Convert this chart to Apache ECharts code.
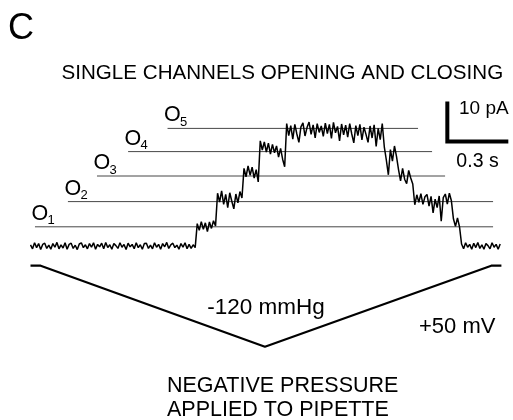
<!DOCTYPE html>
<html><head><meta charset="utf-8">
<script src="https://cdn.jsdelivr.net/npm/echarts@6/dist/echarts.min.js"></script>
<style>html,body{margin:0;padding:0;background:#fff}#chart{width:513px;height:420px}</style>
</head><body><div id="chart"></div>
<script>
// ---- data ----
const sampleStartS = 0;      // time of first sample (s)
const sampleStepS = 0.01;    // sampling step (s)
// single-channel current trace (pA)
const currentPA = [
  // closed (baseline)
  0.3, -0.7, 0.8, -0.4, 0.6, -0.9, 0.4, 0.7, -0.6, 0.2,
  -0.8, 0.6, -0.3, 0.9, -0.7, 0.3, -0.5, 0.8, -0.8, 0.4,
  0.7, -0.6, 0.2, -0.9, 0.5, 0.8, -0.4, 0.3, -0.7, 0.6,
  -0.3, 0.8, -0.8, 0.4, -0.2, 0.7, -0.7, 0.9, -0.4, 0.3,
  -0.8, 0.6, 0.1, -0.6, 0.8, -0.3, 0.4, -0.9, 0.7, -0.2,
  0.4, -0.7, 0.8, -0.4, 0.3, -0.8, 0.6, 0.7, -0.6, 0.2,
  -0.7, 0.8, -0.3, 0.4, -0.8, 0.6, -0.2, 0.9, -0.6, 0.3,
  0.7, -0.4, 0.2, -0.8, 0.6, -0.3, 0.8, -0.7, 0.4, -0.6,
  0.3, -0.4,
  // O1
  5.6, 3.9, 6.1, 4.2, 5.8, 3.6, 6.0, 4.4, 6.3, 5.0,
  // O2
  13.2, 11.0, 13.8, 10.4, 12.9, 9.6, 13.3, 11.2, 9.3, 13.0, 10.8, 13.6, 12.0,
  // O3
  19.4, 17.3, 20.0, 17.7, 19.7, 17.0, 19.1, 16.0,
  // O4
  26.3, 24.0, 26.0, 23.5, 25.7, 23.0, 25.4, 23.3, 25.0, 22.2, 24.4, 21.7, 19.8,
  // O5
  30.6, 27.6, 30.1, 26.7, 30.4, 28.0, 25.9, 29.8, 30.8, 27.5,
  29.6, 31.0, 27.9, 30.3, 27.0, 30.6, 28.4, 30.0, 27.4, 30.7,
  28.1, 30.4, 26.9, 30.9, 28.3, 29.9, 26.3, 30.5, 27.8, 30.2,
  27.2, 30.6, 28.0, 25.8, 30.1, 27.6, 30.4, 26.5, 29.7, 27.9,
  25.9, 30.0, 27.0, 30.3, 24.9, 29.4, 26.6, 30.6,
  // O4
  24.8, 21.5, 17.8, 24.1, 21.2, 25.0, 22.4,
  // O3
  19.1, 16.3, 19.4, 16.7, 15.6, 18.9, 17.0, 15.5,
  // O2
  10.3, 12.8, 10.9, 13.1, 10.4, 12.3, 12.9, 10.0, 12.4, 8.3,
  11.7, 9.6, 12.5, 6.2, 12.1, 13.0, 10.5, 13.2, 11.3,
  // O1
  6.8, 4.9, 7.0, 4.8,
  // closed
  0.5, -0.7, 0.8, -0.3, 0.4, -0.8, 0.7, -0.4, 0.9, -0.6,
  0.3, -0.8, 0.6, 0.1, -0.7, 0.8, -0.3, 0.4, -0.8, 0.5
];
// open levels O1..O5
const levelNames = ['1', '2', '3', '4', '5'];
const levelPA = [4.8, 11.1, 17.5, 23.6, 29.4];
const levelStartS = [0.022, 0.184, 0.327, 0.480, 0.674];
const levelEndS = [2.275, 2.275, 2.039, 1.975, 1.906];
// pressure ramp
const rampTimeS = [0, 0.05, 1.153, 2.266, 2.316];
const rampMmHg = [0, 0, -120, 0, 0];
// scale bar
const scaleBarCorner = [2.05, 26.1]; // [s, pA]
const scaleBarPA = 10;
const scaleBarS = 0.3;
// texts
const panelLetter = 'C';
const titleText = 'SINGLE CHANNELS OPENING AND CLOSING';
const levelPrefix = 'O';
const scaleBarPALabel = '10 pA';
const scaleBarSLabel = '0.3 s';
const pressureLabel = '-120 mmHg';
const voltageLabel = '+50 mV';
const footerLines = ['NEGATIVE PRESSURE', 'APPLIED TO PIPETTE'];

// ---- chart ----
const FONT = "'Liberation Sans', Arial, Helvetica, sans-serif";
const traceData = currentPA.map((v, i) => [+(sampleStartS + i * sampleStepS).toFixed(2), v]);
const rampData = rampTimeS.map((t, i) => [t, rampMmHg[i]]);
const scaleData = [
  [scaleBarCorner[0], scaleBarCorner[1] + scaleBarPA],
  [scaleBarCorner[0], scaleBarCorner[1]],
  [scaleBarCorner[0] + scaleBarS, scaleBarCorner[1]]
];

const levelSeries = levelPA.map((lv, i) => ({
  type: 'line', xAxisIndex: 0, yAxisIndex: 0, silent: true, z: 2,
  symbol: 'none', animation: false,
  lineStyle: { color: '#474747', width: 1 },
  data: [[levelStartS[i], lv], [levelEndS[i], lv]]
}));

function labelCarrier(textFn, pos, size) {
  return {
    type: 'scatter', xAxisIndex: 0, yAxisIndex: 0, silent: true, z: 6,
    symbolSize: 0, animation: false,
    itemStyle: { color: 'transparent', opacity: 1 },
    data: levelPA.map((lv, i) => ({ value: [levelStartS[i], lv], name: levelNames[i] })),
    label: {
      show: true, position: pos, color: '#000', opacity: 1,
      fontSize: size, fontFamily: FONT, formatter: textFn
    }
  };
}

function txt(text, x, y, size, align) {
  return {
    type: 'text', x: x, y: y, silent: true,
    style: { text: text, fontSize: size, fontFamily: FONT, fill: '#000',
      align: align || 'left', verticalAlign: 'middle' }
  };
}

const chart = echarts.init(document.getElementById('chart'), null, { renderer: 'canvas' });
chart.setOption({
  animation: false,
  backgroundColor: '#fff',
  grid: { left: 0, right: 0, top: 0, bottom: 0, containLabel: false },
  xAxis: { type: 'value', min: -0.15, max: 2.373, show: false },
  yAxis: [
    { type: 'value', min: -43.5, max: 61.5, show: false },
    { type: 'value', min: -228.6, max: 393.6, show: false }
  ],
  series: [
    ...levelSeries,
    labelCarrier(() => levelPrefix, [-3.5, -24], 21.5),
    labelCarrier(p => p.name, [12.5, -12.5], 13),
    {
      type: 'line', name: 'current', xAxisIndex: 0, yAxisIndex: 0, z: 5,
      symbol: 'none', silent: true,
      lineStyle: { color: '#000', width: 1.5 },
      data: traceData
    },
    {
      type: 'line', name: 'pressure', xAxisIndex: 0, yAxisIndex: 1, z: 5,
      symbol: 'none', silent: true,
      lineStyle: { color: '#000', width: 2.2 },
      data: rampData
    },
    {
      type: 'line', name: 'scalebar', xAxisIndex: 0, yAxisIndex: 0, z: 5,
      symbol: 'none', silent: true,
      lineStyle: { color: '#000', width: 4, cap: 'butt', join: 'miter' },
      data: scaleData
    }
  ],
  graphic: [
    txt(panelLetter, 8, 29, 36),
    txt(titleText, 61.5, 73.5, 20.6),
    txt(scaleBarPALabel, 459, 108.5, 19),
    txt(scaleBarSLabel, 477.5, 161.5, 19.5, 'center'),
    txt(pressureLabel, 266, 308, 22.5, 'center'),
    txt(voltageLabel, 419, 326.5, 22),
    txt(footerLines[0], 167, 386.3, 21.5),
    txt(footerLines[1], 167, 409.7, 21.5)
  ]
});
</script></body></html>
